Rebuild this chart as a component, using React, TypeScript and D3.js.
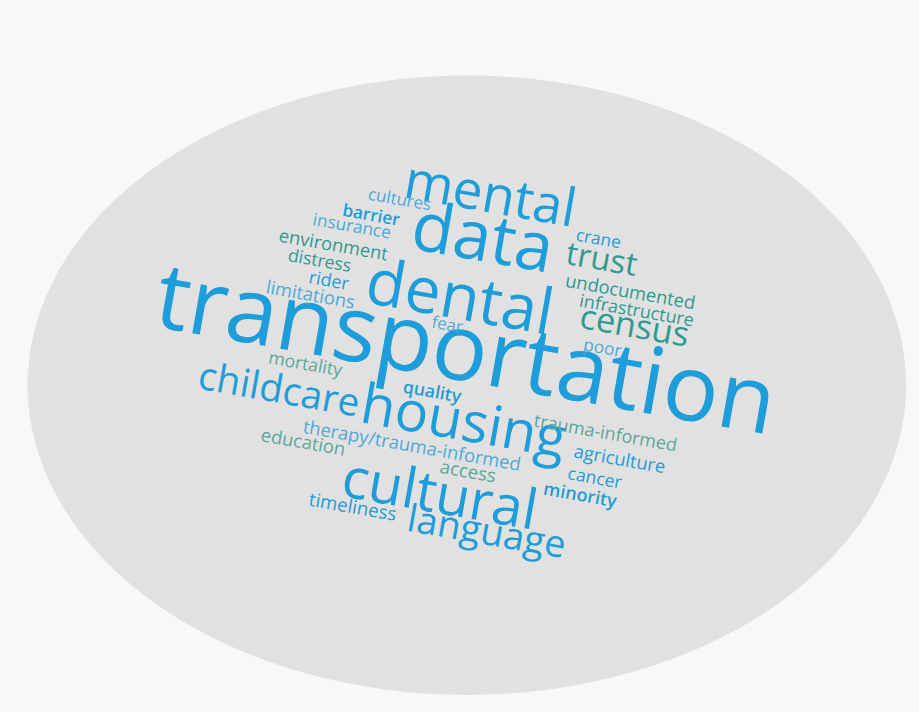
import React from "react";
import * as d3 from "d3";

// word cloud data: words and their frequencies
const words = [
  "transportation", "data", "dental", "mental", "housing", "cultural",
  "childcare", "language", "census", "trust", "crane", "undocumented",
  "infrastructure", "poor", "cultures", "barrier", "insurance", "environment",
  "distress", "rider", "limitations", "fear", "mortality", "quality",
  "therapy/trauma-informed", "education", "access", "timeliness",
  "trauma-informed", "agriculture", "cancer", "minority",
];
const counts = [
  51.5, 38, 35.5, 29.5, 31, 31,
  21.5, 21, 19, 18, 9.6, 10.2,
  10, 9.6, 9.4, 9.6, 9.6, 10.2,
  9.8, 10, 10.2, 9.4, 9.8, 9.8,
  10.2, 10.2, 10.4, 10.4,
  10, 10.2, 9.8, 10,
];
// colour group per word: 0 blue, 1 teal, 2 light blue, 3 light teal
const tones = [
  0, 0, 0, 0, 0, 0,
  0, 0, 1, 1, 0, 1,
  1, 2, 2, 0, 2, 1,
  1, 0, 2, 2, 3, 0,
  2, 3, 3, 0,
  3, 0, 0, 0,
];
// layout produced by the cloud placement (word centres, in layout units 0..100)
const layoutX = [
  50.6, 52.6, 50.1, 53.4, 50.4, 47.9,
  30.4, 52.9, 69.0, 65.5, 65.1, 68.6,
  69.3, 65.5, 43.5, 40.4, 38.3, 36.3,
  34.8, 35.8, 33.8, 48.7, 33.2, 47.0,
  44.8, 33.0, 50.9, 38.4,
  65.9, 67.4, 64.7, 63.1,
];
const layoutY = [
  50.1, 33.0, 41.4, 27.0, 59.8, 69.1,
  54.5, 75.1, 46.1, 36.2, 33.7, 40.9,
  43.5, 49.3, 27.9, 30.1, 31.7, 34.3,
  36.5, 39.3, 41.3, 45.5, 51.3, 55.2,
  62.8, 62.0, 66.4, 71.1,
  60.7, 64.7, 67.3, 69.7,
];
const boldWords = ["barrier", "minority", "quality"];
const palette = ["#1d9dd9", "#2f9a90", "#4eaad9", "#5aa89c"];

const W = 919;
const H = 712;

export default function App() {
  const xs = d3.scaleLinear().domain([0, 100]).range([0, W]);
  const ys = d3.scaleLinear().domain([0, 100]).range([0, H]);
  const fs = d3.scaleLinear().domain([0, 50]).range([0, 90]);
  const angle = 10;

  const items = words.map((w, i) => {
    const asc = /[bdfhklt\/]/.test(w) ? -0.76 : /[i]/.test(w) ? -0.72 : -0.54;
    const desc = /[gpqy\/]/.test(w) ? 0.24 : 0;
    const dy = -(asc + desc) / 2;
    return {
      w,
      x: xs(layoutX[i]),
      y: ys(layoutY[i]),
      size: fs(counts[i]),
      color: palette[tones[i]],
      dy,
      weight: boldWords.includes(w) ? 600 : 400,
    };
  });

  return (
    <svg
      width={W}
      height={H}
      style={{ position: "absolute", left: 0, top: 0, background: "#f8f8f8" }}
    >
      <rect x={0} y={0} width={W} height={H} fill="#f8f8f8" />
      <ellipse cx={xs(50.8)} cy={ys(54.1)} rx={xs(47.8)} ry={ys(43.5)} fill="#e1e1e1" />
      {items.map((d) => (
        <text
          key={d.w}
          x={d.x}
          y={d.y}
          dy={`${d.dy}em`}
          textAnchor="middle"
          transform={`rotate(${angle},${d.x},${d.y})`}
          fontFamily="'Open Sans', sans-serif"
          fontWeight={d.weight}
          fontSize={d.size}
          fill={d.color}
        >
          {d.w}
        </text>
      ))}
    </svg>
  );
}
